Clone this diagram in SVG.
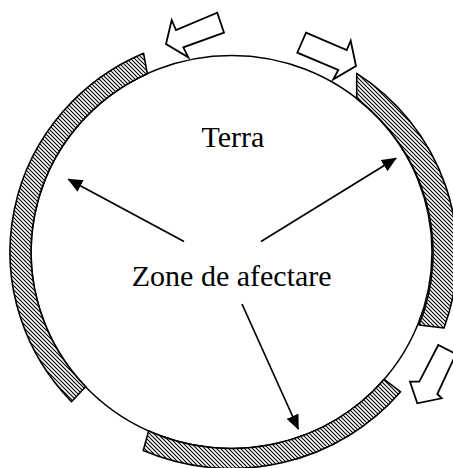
<svg xmlns="http://www.w3.org/2000/svg" width="453" height="468" viewBox="0 0 453 468">
<style>
.band{fill:url(#hatch);stroke:#000;stroke-width:1.6;stroke-linejoin:round}
.ring{fill:none;stroke:#000;stroke-width:1.5}
.block{fill:#fff;stroke:#000;stroke-width:1.8;stroke-linejoin:miter}
.ptr{stroke:#000;stroke-width:1.7;fill:none}
.lbl{font-family:"Liberation Serif","Times New Roman",serif;font-size:30px;fill:#000;text-anchor:middle}
</style>
<defs>
<pattern id="hatch" patternUnits="userSpaceOnUse" width="4" height="4">
<rect width="4" height="4" fill="#fff"/>
<path d="M-1,-1 L5,5 M-1,3 L1,5 M3,-1 L5,1" stroke="#000" stroke-width="1.1"/>
</pattern>
<marker id="head" markerUnits="userSpaceOnUse" markerWidth="15" markerHeight="13" refX="14" refY="6.5" orient="auto">
<path d="M0,0 L15,6.5 L0,13 Z" fill="#000"/>
</marker>
</defs>
<rect width="453" height="468" fill="#fff"/>
<g id="earth">
<ellipse class="ring" cx="231.5" cy="252" rx="200.5" ry="196.5"/>
</g>
<g id="zone-left">
<path class="band" d="M147.3,73.7 L143.6,53.3 A221.5 216.5 0 0 0 71.5,401.7 L85.6,386.7 A200.5 196.5 0 0 1 147.3,73.7 Z"/>
</g>
<g id="zone-bottom">
<path class="band" d="M148.6,430.9 L143.2,450.6 A221.5 216.5 0 0 0 400.6,391.8 L384.2,379.3 A200.5 196.5 0 0 1 148.6,430.9 Z"/>
</g>
<g id="zone-right">
<path class="band" d="M356.7,98.5 L356.7,73.4 A221.5 216.5 0 0 1 444,328 L419,325 A200.5 196.5 0 0 0 356.7,98.5 Z"/>
</g>
<g id="flow-arrow-1">
<polygon class="block" points="217.3,12.7 224,32.7 183.3,47.3 188.3,57.3 166,44 171.7,20 176,30"/>
</g>
<g id="flow-arrow-2">
<polygon class="block" points="306,32.7 346.7,50 350.7,40.7 356,66 333.3,79.3 338.3,70 297.3,52.7"/>
</g>
<g id="flow-arrow-3">
<polygon class="block" points="438.3,345 419.3,381.7 410,381.7 417.3,403.3 441.7,398.3 437.3,394 456,354"/>
</g>
<g id="label-terra">
<text class="lbl" x="233" y="147">Terra</text>
</g>
<g id="label-zone">
<text class="lbl" x="231.7" y="286">Zone de afectare</text>
</g>
<g id="connectors">
<line class="ptr" x1="184" y1="241.5" x2="68.3" y2="179.3" marker-end="url(#head)"/>
<line class="ptr" x1="261" y1="241.5" x2="396" y2="158.3" marker-end="url(#head)"/>
<line class="ptr" x1="242" y1="304" x2="298.3" y2="429" marker-end="url(#head)"/>
</g>
</svg>
